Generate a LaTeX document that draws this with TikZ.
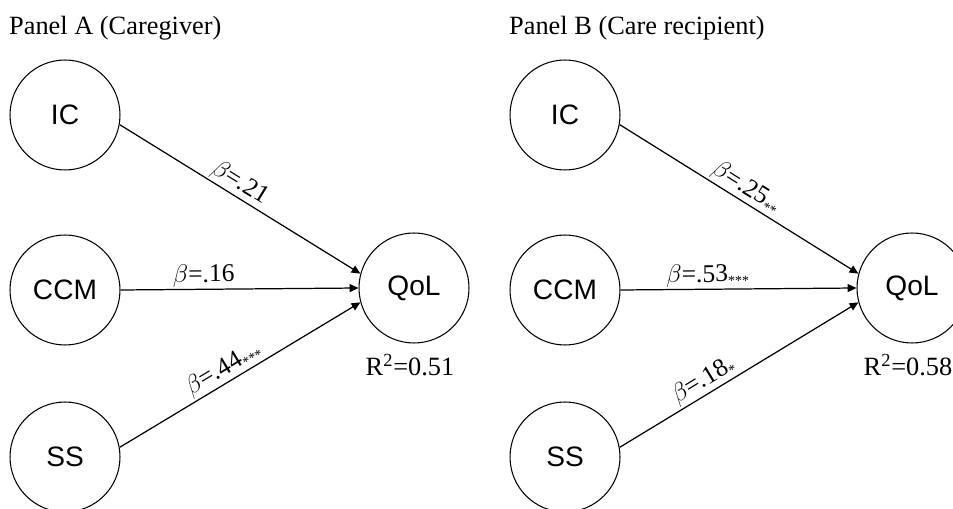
\documentclass[tikz,border=0pt]{standalone}
\usepackage{fontspec}
\setmainfont{Liberation Serif}
\setsansfont{Liberation Sans}
\usepackage{tikz}
\usetikzlibrary{arrows.meta}

\newcommand{\sig}[1]{\raisebox{-0.35ex}{\footnotesize#1}}

\begin{document}
\begin{tikzpicture}[x=0.02cm,y=-0.02cm,
    var/.style={draw,circle,line width=0.6pt,minimum size=2.2cm,inner sep=0pt,font=\sffamily\fontsize{16}{18}\selectfont},
    path/.style={line width=0.7pt,-{Triangle[length=5pt,width=4.5pt]}},
    coef/.style={font=\fontsize{14.5}{16}\selectfont,sloped,above,inner sep=1pt},
    lbl/.style={font=\fontsize{15}{17}\selectfont}]
    \useasboundingbox (0,0) rectangle (953,509);

    % Panel A
    \node[lbl,anchor=west] (titleA) at (3,28) {Panel A (Caregiver)};
    \node[var] (icA) at (65,115) {IC};
    \node[var] (ccmA) at (65,290) {CCM};
    \node[var] (ssA) at (65,457) {SS};
    \node[var] (qolA) at (414,288) {QoL};
    \node[lbl] (rA) at (410,365) {R\textsuperscript{2}=0.51};

    \draw[path] (icA.-10) -- node[coef,pos=0.47] {$\beta$=.21} (qolA.165);
    \draw[path] (ccmA.east) -- node[coef,pos=0.35] {$\beta$=.16} (qolA.west);
    \draw[path] (ssA.10) -- node[coef,pos=0.46] {$\beta$=.44\sig{***}} (qolA.195);

    % Panel B
    \node[lbl,anchor=west] (titleB) at (503,28) {Panel B (Care recipient)};
    \node[var] (icB) at (565,115) {IC};
    \node[var] (ccmB) at (565,290) {CCM};
    \node[var] (ssB) at (565,457) {SS};
    \node[var] (qolB) at (912,288) {QoL};
    \node[lbl] (rB) at (908,365) {R\textsuperscript{2}=0.58};

    \draw[path] (icB.-10) -- node[coef,pos=0.5] {$\beta$=.25\sig{**}} (qolB.165);
    \draw[path] (ccmB.east) -- node[coef,pos=0.37] {$\beta$=.53\sig{***}} (qolB.west);
    \draw[path] (ssB.10) -- node[coef,pos=0.38] {$\beta$=.18\sig{*}} (qolB.195);
\end{tikzpicture}
\end{document}
